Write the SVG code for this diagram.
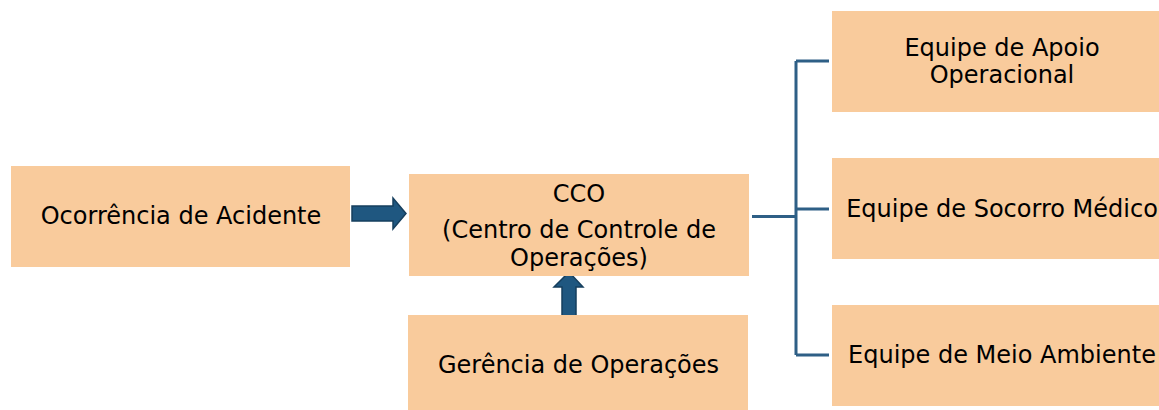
<svg xmlns="http://www.w3.org/2000/svg" width="1159" height="410" viewBox="0 0 1159 410">
<style>
.box{fill:#f9cb9c;}
.t{font-family:"DejaVu Sans","Verdana",sans-serif;font-size:24px;fill:#000;text-anchor:middle;}
.arr{fill:#1f5780;stroke:#163f5e;stroke-width:1.5;stroke-linejoin:miter;}
.ln{fill:none;stroke:#2e5f86;stroke-width:3;}
</style>
<rect width="1159" height="410" fill="#fff"/>
<g id="connectors">
<path class="arr" d="M352,206 L393,206 L393,198 L406,213.5 L393,229 L393,221 L352,221 Z"/>
<path class="arr" d="M562,319 L562,287 L554,287 L569,272 L583,287 L576,287 L576,319 Z"/>
<path class="ln" d="M752,216.5 L796,216.5 M796,61 L796,355 M796,61 L829,61 M796,209 L829,209 M796,355 L829,355"/>
</g>
<g id="ocorrencia">
<rect class="box" x="11" y="166" width="339" height="101"/>
<text class="t" x="181" y="224">Ocorrência de Acidente</text>
</g>
<g id="cco">
<rect class="box" x="409" y="174" width="340" height="102"/>
<text class="t" x="579" y="202">CCO</text>
<text class="t" x="579" y="238">(Centro de Controle de</text>
<text class="t" x="579" y="266">Operações)</text>
</g>
<g id="gerencia">
<rect class="box" x="408" y="315" width="340" height="95"/>
<text class="t" x="578.5" y="373">Gerência de Operações</text>
</g>
<g id="apoio">
<rect class="box" x="832" y="11" width="340" height="101"/>
<text class="t" x="1002" y="56">Equipe de Apoio</text>
<text class="t" x="1002" y="83">Operacional</text>
</g>
<g id="socorro">
<rect class="box" x="832" y="158" width="340" height="101"/>
<text class="t" x="1002" y="217">Equipe de Socorro Médico</text>
</g>
<g id="ambiente">
<rect class="box" x="832" y="305" width="340" height="101"/>
<text class="t" x="1002" y="363">Equipe de Meio Ambiente</text>
</g>
</svg>
